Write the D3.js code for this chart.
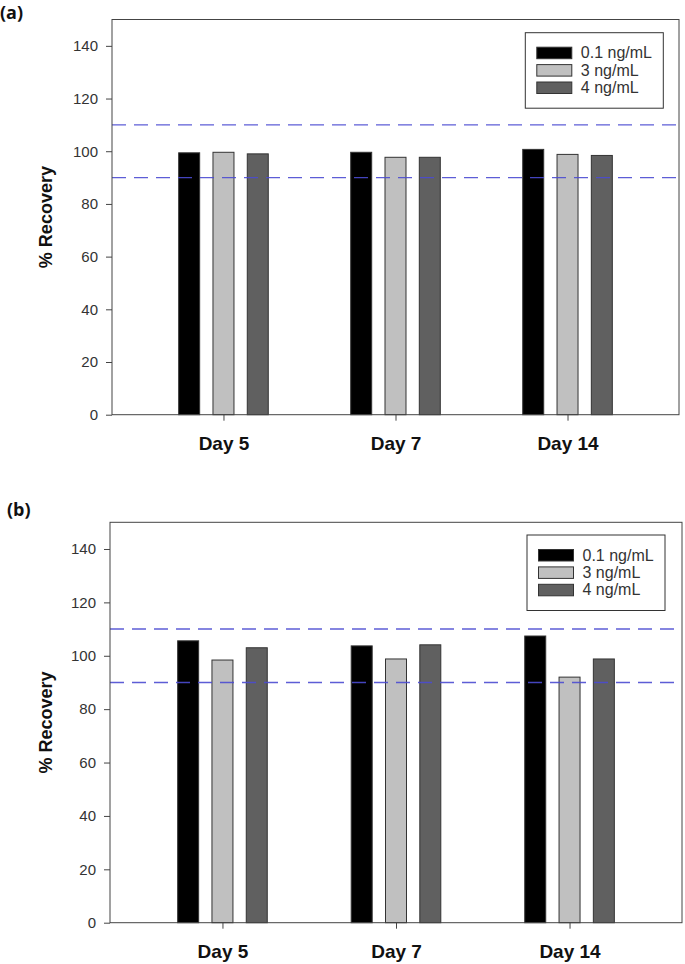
<!DOCTYPE html>
<html>
<head>
<meta charset="utf-8">
<script src="https://cdn.jsdelivr.net/npm/d3@7"></script>
<style>
  body { margin: 0; background: #fff; }
  svg { display: block; }
  .tick text { font-family: "Liberation Sans", Arial, sans-serif; }
</style>
</head>
<body>
<svg id="chart" width="685" height="964"></svg>
<script>
// categories and series
var days = ['Day 5', 'Day 7', 'Day 14'];
var concentrations = ['0.1 ng/mL', '3 ng/mL', '4 ng/mL'];

var panelA_low  = [99.4, 99.6, 100.7];
var panelA_mid  = [99.6, 97.7, 98.8];
var panelA_high = [99.0, 97.7, 98.4];

var panelB_low  = [105.6, 103.7, 107.4];
var panelB_mid  = [98.4, 98.8, 92.0];
var panelB_high = [103.0, 104.1, 98.8];

var yTicks = [0, 20, 40, 60, 80, 100, 120, 140];
var acceptLimits = [90, 110];

var barColors = ['#000000', '#c0c0c0', '#606060'];

var svg = d3.select('#chart');

function drawPanel(opts) {
  var g = svg.append('g');
  var left = opts.left, right = opts.right, top = opts.top, bottom = opts.bottom;

  var y = d3.scaleLinear().domain([0, 150]).range([bottom, top]);
  var x = d3.scalePoint().domain(days).range([left, right]).padding(0.648);
  var inner = d3.scaleBand().domain(concentrations).range([-44.8, 44.8]).paddingInner(0.388);

  // panel letter
  g.append('text')
    .attr('x', opts.letterX).attr('y', opts.letterY)
    .attr('font-family', '"Open Sans", "Noto Sans", sans-serif')
    .attr('font-weight', 'bold')
    .attr('font-size', 18)
    .attr('fill', '#111')
    .text(opts.letter);

  // bars
  var series = opts.series;
  concentrations.forEach(function(c, i) {
    g.selectAll('rect.s' + i)
      .data(series[i])
      .enter().append('rect')
      .attr('class', 's' + i)
      .attr('x', function(d, k) { return x(days[k]) + inner(c); })
      .attr('width', inner.bandwidth())
      .attr('y', function(d) { return y(d); })
      .attr('height', function(d) { return y(0) - y(d); })
      .attr('fill', barColors[i])
      .attr('stroke', '#333')
      .attr('stroke-width', 1);
  });

  // limit lines, drawn over the bars
  g.selectAll('line.limit')
    .data(acceptLimits)
    .enter().append('line')
    .attr('class', 'limit')
    .attr('x1', left).attr('x2', right)
    .attr('y1', function(d) { return y(d); })
    .attr('y2', function(d) { return y(d); })
    .attr('stroke', '#4b4bd2')
    .attr('stroke-opacity', 0.9)
    .attr('stroke-width', 1.4)
    .attr('stroke-dasharray', '14,8');

  // frame
  g.append('rect')
    .attr('x', left).attr('y', top)
    .attr('width', right - left).attr('height', bottom - top)
    .attr('fill', 'none')
    .attr('stroke', '#444')
    .attr('stroke-width', 1);

  // y axis
  var ya = g.append('g')
    .attr('transform', 'translate(' + left + ',0)')
    .call(d3.axisLeft(y).tickValues(yTicks).tickSize(6).tickPadding(8));
  ya.select('.domain').remove();
  ya.selectAll('.tick line').attr('stroke', '#444');
  ya.selectAll('.tick text').attr('font-size', 15).attr('fill', '#333');

  // x axis
  var xa = g.append('g')
    .attr('transform', 'translate(0,' + bottom + ')')
    .call(d3.axisBottom(x).tickSize(6).tickPadding(16));
  xa.select('.domain').remove();
  xa.selectAll('.tick line').attr('stroke', '#444');
  xa.selectAll('.tick text')
    .attr('font-weight', 'bold')
    .attr('font-size', 19)
    .attr('fill', '#111');

  // y label
  g.append('text')
    .attr('transform', 'translate(52,' + ((top + bottom) / 2) + ') rotate(-90)')
    .attr('text-anchor', 'middle')
    .attr('font-family', '"Liberation Sans", Arial, sans-serif')
    .attr('font-weight', 'bold')
    .attr('font-size', 18)
    .attr('fill', '#111')
    .text('% Recovery');

  // legend
  var lg = g.append('g').attr('transform', 'translate(' + opts.legendX + ',' + opts.legendY + ')');
  lg.append('rect')
    .attr('width', 138).attr('height', 75.5)
    .attr('fill', '#fff')
    .attr('stroke', '#333')
    .attr('stroke-width', 1);
  var rows = lg.selectAll('g.row')
    .data(concentrations)
    .enter().append('g')
    .attr('class', 'row')
    .attr('transform', function(d, i) { return 'translate(11.5,' + (14.5 + i * 17.4) + ')'; });
  rows.append('rect')
    .attr('width', 35).attr('height', 11.5)
    .attr('fill', function(d, i) { return barColors[i]; })
    .attr('stroke', '#333')
    .attr('stroke-width', 1);
  rows.append('text')
    .attr('x', 44).attr('y', 11)
    .attr('font-family', '"Liberation Sans", Arial, sans-serif')
    .attr('font-size', 16)
    .attr('fill', '#333')
    .text(function(d) { return d; });
}

drawPanel({
  letter: '(a)', letterX: 0, letterY: 19,
  left: 112, right: 679, top: 19.5, bottom: 414.7,
  legendX: 525.3, legendY: 32.7,
  series: [panelA_low, panelA_mid, panelA_high]
});

drawPanel({
  letter: '(b)', letterX: 7, letterY: 516,
  left: 110, right: 682, top: 522.3, bottom: 922.7,
  legendX: 527, legendY: 535,
  series: [panelB_low, panelB_mid, panelB_high]
});
</script>
</body>
</html>
